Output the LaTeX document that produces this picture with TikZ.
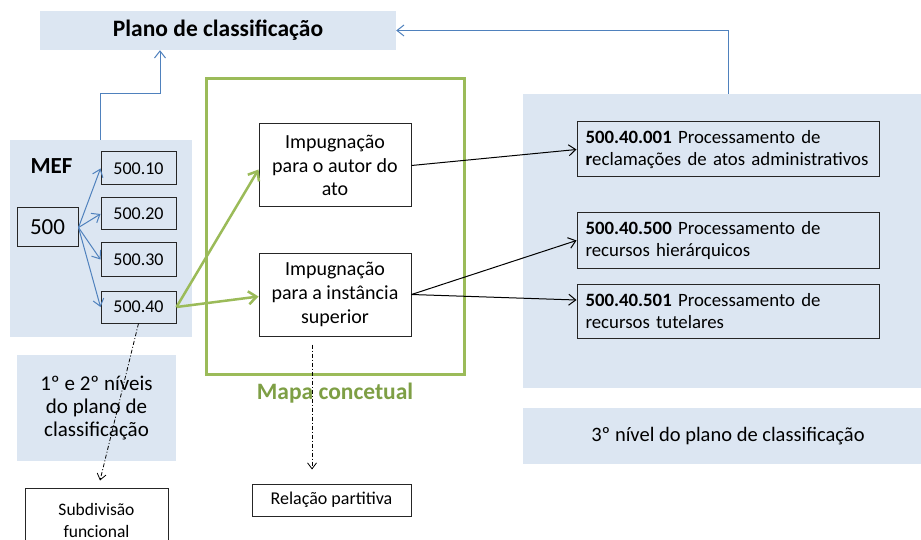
\documentclass[tikz,border=0pt]{standalone}
\usepackage{fontspec}
\setmainfont{Carlito}
\usetikzlibrary{arrows.meta,calc}
\definecolor{bgblue}{HTML}{DCE6F2}
\definecolor{lineblue}{HTML}{4F81BD}
\definecolor{gline}{HTML}{9BBB59}
\definecolor{gtext}{HTML}{7E9F45}
\definecolor{boxline}{HTML}{262626}
\begin{document}
\begin{tikzpicture}[x=1pt,y=-1pt,
 panel/.style={fill=bgblue,draw=none,inner sep=0pt,align=center},
 cbox/.style={draw=boxline,line width=1pt,inner sep=0pt,align=center},
 rbox/.style={draw=boxline,line width=1pt,text width=285pt,inner xsep=8.5pt,inner ysep=0pt,align=left,font=\fontsize{18.8}{22.5}\selectfont},
 barrow/.style={draw=lineblue,line width=1pt,-{Straight Barb[length=7pt,width=11pt]}},
 karrow/.style={draw=black,line width=1pt,-{Straight Barb[length=7pt,width=11pt]}},
 garrow/.style={draw=gline,line width=2.5pt,-{Straight Barb[length=8pt,width=13pt]}},
 ddarrow/.style={draw=black,line width=0.8pt,dash pattern=on 4pt off 2pt on 1pt off 2pt,-{Straight Barb[length=6pt,width=9pt]}},
 imptxt/.style={font=\fontsize{20}{23.7}\selectfont},
 numtxt/.style={font=\fontsize{18}{21}\selectfont},
 bigtitle/.style={font=\fontsize{23.5}{28}\selectfont\bfseries}
]
\clip (0,0) rectangle (921,540);
\fill[white] (0,0) rectangle (921,540);

% panels
\node[panel,minimum width=356pt,minimum height=39pt,bigtitle] (plano) at (218,30.5) {Plano de classificação};
\node[panel,minimum width=182pt,minimum height=197pt] (mefbox) at (101,238.5) {};
\node[panel,minimum width=410pt,minimum height=294pt] (rightbox) at (728,241) {};
\node[panel,minimum width=159pt,minimum height=106pt,font=\fontsize{21}{23}\selectfont] (lvl12) at (96.5,408) {1º e 2º níveis\\do plano de\\classificação};
\node[panel,minimum width=410pt,minimum height=56pt,font=\fontsize{20.5}{24}\selectfont] (lvl3) at (728,436) {3º nível do plano de classificação};

% MEF
\node[anchor=west,font=\fontsize{23}{27}\selectfont\bfseries] (mef) at (27,166) {MEF};
\node[cbox,minimum width=61pt,minimum height=39pt,font=\fontsize{23}{27}\selectfont] (n500) at (47.5,227.5) {500};
\node[cbox,minimum width=75pt,minimum height=33pt,numtxt] (a10) at (138.5,168.5) {500.10};
\node[cbox,minimum width=75pt,minimum height=32pt,numtxt] (a20) at (138.5,214) {500.20};
\node[cbox,minimum width=75pt,minimum height=33pt,numtxt] (a30) at (138.5,259.5) {500.30};
\node[cbox,minimum width=75pt,minimum height=32pt,numtxt] (a40) at (138.5,307) {500.40};

% green concept map
\draw[gline,line width=3pt] (206,79) rectangle (464,374);
\node[font=\fontsize{23.5}{28}\selectfont\bfseries,text=gtext] (mapa) at (335,393) {Mapa concetual};
\node[cbox,fill=white,minimum width=152pt,minimum height=83pt,imptxt] (imp1) at (335,165.5) {Impugnação\\para o autor do\\ato};
\node[cbox,fill=white,minimum width=152pt,minimum height=83pt,imptxt] (imp2) at (335,294.5) {Impugnação\\para a instância\\superior};

% right boxes
\node[rbox,minimum height=55pt] (r1) at (728,149.5) {\textbf{500.40.001} Processamento de\\\textbf{r}eclamações de atos administrativos};
\node[rbox,minimum height=55pt] (r2) at (728,240.5) {\textbf{500.40.500} Processamento de\\recursos hierárquicos};
\node[rbox,minimum height=54pt] (r3) at (728,311) {\textbf{500.40.501} Processamento de\\recursos tutelares};

% bottom boxes
\node[cbox,minimum width=143pt,minimum height=64pt,font=\fontsize{17.5}{22}\selectfont] (subd) at (96.5,520) {Subdivisão\\funcional};
\node[cbox,minimum width=159pt,minimum height=32pt,font=\fontsize{18}{21}\selectfont] (rel) at (331.5,500) {Relação partitiva};

% blue connectors
\draw[barrow] (n500.east) -- (a10.west);
\draw[barrow] (n500.east) -- (a20.west);
\draw[barrow] (n500.east) -- (a30.west);
\draw[barrow] (n500.east) -- (a40.west);
\draw[barrow] ([xshift=-1pt]mefbox.north) -- ++(0,-46) -| ([xshift=-58pt]plano.south);
\draw[barrow] (rightbox.north) |- (plano.east);

% green connectors
\draw[garrow] (a40.east) -- ([yshift=-4pt]imp1.west);
\draw[garrow] (a40.east) -- ([yshift=-2pt]imp2.west);

% black connectors
\draw[karrow] (imp1.east) -- (r1.west);
\draw[karrow] (imp2.east) -- (r2.west);
\draw[karrow] (imp2.east) -- ([yshift=11pt]r3.west);

% dash-dot connectors
\draw[ddarrow] (a40.south) -- ([xshift=3.5pt,yshift=7pt]subd.north);
\draw[ddarrow] ([xshift=-23pt,yshift=-8pt]imp2.south) -- ([xshift=-19.5pt,yshift=14pt]rel.north);
\end{tikzpicture}
\end{document}
